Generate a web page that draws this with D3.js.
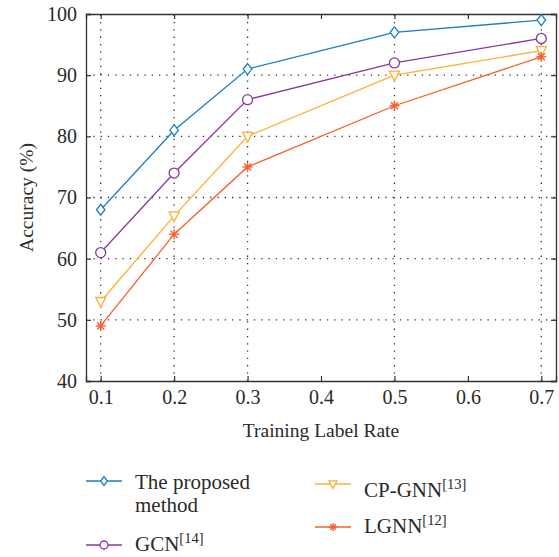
<!DOCTYPE html>
<html>
<head>
<meta charset="utf-8">
<script src="https://cdn.jsdelivr.net/npm/d3@7"></script>
<style>
  body { margin: 0; background: #fff; }
</style>
</head>
<body>
<div class="chart-section"></div>
<script>
const rates = [0.1, 0.2, 0.3, 0.5, 0.7];
const proposed = [68, 81, 91, 97, 99];
const gcn = [61, 74, 86, 92, 96];
const cpgnn = [53, 67, 80, 90, 94];
const lgnn = [49, 64, 75, 85, 93];
const xTicks = [0.1, 0.2, 0.3, 0.4, 0.5, 0.6, 0.7];
const yTicks = [40, 50, 60, 70, 80, 90, 100];

const series = [
  { name: "The proposed|method", values: proposed, color: "#1a7fc6", marker: "diamond" },
  { name: "GCN", sup: "[14]", values: gcn, color: "#8a3a9b", marker: "circle" },
  { name: "CP-GNN", sup: "[13]", values: cpgnn, color: "#fbb034", marker: "triangle" },
  { name: "LGNN", sup: "[12]", values: lgnn, color: "#f5602e", marker: "star" },
];

const FONT = "'Liberation Serif', 'DejaVu Serif', serif";
const width = 559;
const height = 557;
const margin = { top: 14, right: 3, bottom: 176, left: 86 };

const svg = d3
  .select(".chart-section")
  .append("svg")
  .attr("width", width)
  .attr("height", height)
  .style("font-family", FONT);

const x = d3.scaleLinear().domain([0.08, 0.72]).range([margin.left, width - margin.right]);
const y = d3.scaleLinear().domain([40, 100]).range([height - margin.bottom, margin.top]);

// grid
const grid = svg.append("g").attr("stroke", "#333").attr("stroke-width", 1.3).attr("stroke-dasharray", "1.3,6");
grid
  .selectAll("line.v")
  .data(rates)
  .join("line")
  .attr("class", "v")
  .attr("x1", (d) => x(d))
  .attr("x2", (d) => x(d))
  .attr("y1", y(40))
  .attr("y2", y(100));
grid
  .selectAll("line.h")
  .data(yTicks.slice(1, -1))
  .join("line")
  .attr("class", "h")
  .attr("x1", x.range()[0])
  .attr("x2", x.range()[1])
  .attr("y1", (d) => y(d))
  .attr("y2", (d) => y(d));

// axes
const xAxis = svg
  .append("g")
  .attr("transform", `translate(0,${y(40)})`)
  .call(d3.axisBottom(x).tickValues(xTicks).tickSize(-5).tickPadding(9).tickFormat(d3.format(".1f")));
const xAxisTop = svg
  .append("g")
  .attr("transform", `translate(0,${y(100)})`)
  .call(d3.axisTop(x).tickValues(xTicks).tickSize(-5).tickFormat(""));
const yAxis = svg
  .append("g")
  .attr("transform", `translate(${x(0.08)},0)`)
  .call(d3.axisLeft(y).tickValues(yTicks).tickSize(-5).tickPadding(9));
const yAxisRight = svg
  .append("g")
  .attr("transform", `translate(${x(0.72)},0)`)
  .call(d3.axisRight(y).tickValues(yTicks).tickSize(-5).tickFormat(""));

[xAxis, xAxisTop, yAxis, yAxisRight].forEach((g) => {
  g.attr("font-family", FONT).attr("font-size", 20);
  g.select(".domain").attr("stroke", "#333").attr("stroke-width", 1.3);
  g.selectAll(".tick line").attr("stroke", "#333").attr("stroke-width", 1.2);
  g.selectAll("text").attr("fill", "#2a2a2a");
});

svg
  .append("text")
  .attr("x", (x.range()[0] + x.range()[1]) / 2)
  .attr("y", 437)
  .attr("text-anchor", "middle")
  .attr("font-size", 19.5)
  .attr("fill", "#2a2a2a")
  .text("Training Label Rate");

svg
  .append("text")
  .attr("transform", `translate(33,${(y(40) + y(100)) / 2}) rotate(-90)`)
  .attr("text-anchor", "middle")
  .attr("font-size", 19.5)
  .attr("fill", "#2a2a2a")
  .text("Accuracy (%)");

// markers
const drawMarker = (g, type, color, s) => {
  if (type === "diamond") {
    g.append("path")
      .attr("d", `M0,${-s * 1.1}L${s * 0.85},0L0,${s * 1.1}L${-s * 0.85},0Z`)
      .attr("fill", "#fff")
      .attr("stroke", color)
      .attr("stroke-width", 1.3);
  } else if (type === "circle") {
    g.append("circle").attr("r", s).attr("fill", "#fff").attr("stroke", color).attr("stroke-width", 1.3);
  } else if (type === "triangle") {
    g.append("path")
      .attr("d", `M${-s},${-s * 0.8}L${s},${-s * 0.8}L0,${s * 1.15}Z`)
      .attr("fill", "#fff")
      .attr("stroke", color)
      .attr("stroke-width", 1.3);
  } else {
    const r = s;
    for (let k = 0; k < 4; k++) {
      const a = (k * Math.PI) / 4;
      g.append("line")
        .attr("x1", -r * Math.cos(a))
        .attr("y1", -r * Math.sin(a))
        .attr("x2", r * Math.cos(a))
        .attr("y2", r * Math.sin(a))
        .attr("stroke", color)
        .attr("stroke-width", 1.4);
    }
  }
};

const line = d3
  .line()
  .x((d, i) => x(rates[i]))
  .y((d) => y(d));

series.forEach((s) => {
  svg
    .append("path")
    .attr("d", line(s.values))
    .attr("fill", "none")
    .attr("stroke", s.color)
    .attr("stroke-width", 1.3);
  s.values.forEach((v, i) => {
    const g = svg.append("g").attr("transform", `translate(${x(rates[i])},${y(v)})`);
    drawMarker(g, s.marker, s.color, 5);
  });
});

// legend
const legendPos = [
  { lx: 86, ly: 481, ty: 8 },
  { lx: 86, ly: 545, ty: 6 },
  { lx: 315, ly: 484, ty: 13 },
  { lx: 315, ly: 527, ty: 6 },
];

series.forEach((s, i) => {
  const p = legendPos[i];
  const g = svg.append("g").attr("transform", `translate(${p.lx},${p.ly})`);
  g.append("line").attr("x1", 0).attr("x2", 36).attr("stroke", s.color).attr("stroke-width", 1.3);
  const m = g.append("g").attr("transform", "translate(18,0)");
  drawMarker(m, s.marker, s.color, 4);
  const lines = s.name.split("|");
  lines.forEach((t, j) => {
    const txt = g
      .append("text")
      .attr("x", 49)
      .attr("y", p.ty + j * 23)
      .attr("font-size", 21)
      .attr("fill", "#2a2a2a")
      .text(t);
    if (s.sup && j === 0) {
      txt.append("tspan").attr("dy", -8).attr("font-size", 14.5).text(s.sup);
    }
  });
});
</script>
</body>
</html>
